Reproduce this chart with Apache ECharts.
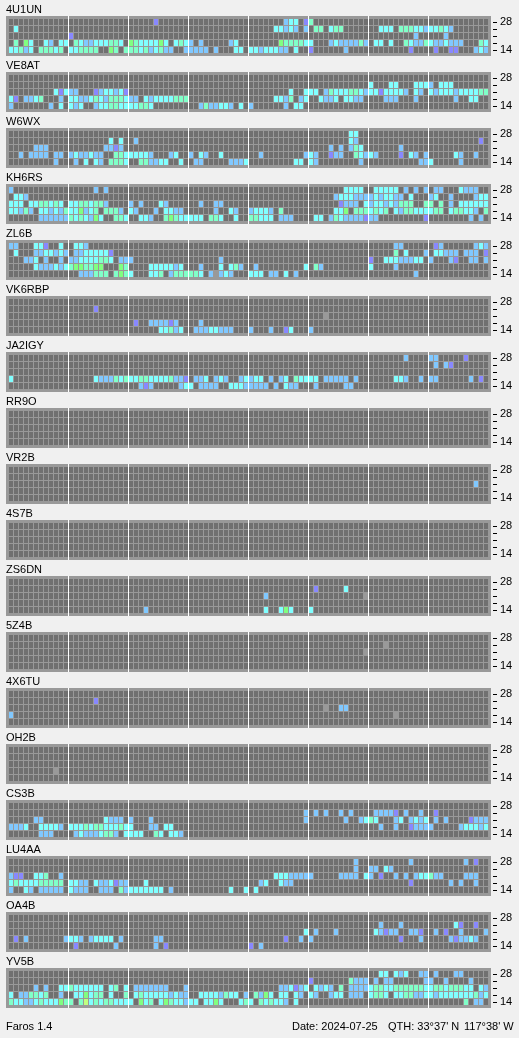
<!DOCTYPE html>
<html>
<head>
<meta charset="utf-8">
<title>Faros 1.4</title>
<style>
  html, body { margin: 0; padding: 0; background: #f0f0f0; }
  #chart { width: 519px; height: 1038px; }
</style>
<script src="https://cdn.jsdelivr.net/npm/echarts@6/dist/echarts.min.js"></script>
</head>
<body>
<div id="chart"></div>
<script>
// each station: five rows, 28 MHz on top down to 14 MHz, "slot+level" per heard quarter hour
// levels: p weakest, b, c, t, g, y strongest, x = no decode
const U4U1UN = [
  '29p 55b 56c 57c 59p 60t',
  '1c 53c 54c 55b 56c 57b 59b 61t 62t 64c 65t 66t 74c 75c 76c 78t 79t 80t 81c 82c 83b 84c 85c 86t 87c 88b',
  '12p 81b 87b',
  '1t 3g 4c 7c 8b 10c 11c 13t 14c 15b 16b 17c 18c 19c 20t 21t 22c 24g 25t 26c 27c 28c 29c 30g 31c 33c 34t 35c 36b 38b 44b 45c 54g 55t 56t 57t 58t 59c 60c 64b 65c 66b 67b 68b 69b 70t 71b 73c 74c 76c 79t 80c 81b 82b 83t 84c 85b 86b 87c 88b 89b 90b 94t 95c',
  '0c 1c 2t 3b 4c 6t 7t 8t 9c 10t 12c 13c 14t 15t 16t 17t 20g 21t 23t 24t 25t 26c 27t 28b 29c 30t 31b 32b 35b 36b 37b 38b 39b 41b 45c 46c 48c 49c 50b 51c 52c 53c 54b 55b 57c 60p 67b 80p 85p 88p 89p 93b 94c 95b'
];
const VE8AT = [
  '',
  '72c 76c 77c 81c 82c 83c 84b 86c 87c 88c',
  '9c 10p 11c 12b 13b 17p 18b 19c 20c 21b 22c 23p 56c 59c 60c 61c 63b 64t 65c 66c 67c 68t 69t 70c 71b 72c 73c 74p 75c 76c 77c 78c 79b 81c 82b 84c 85b 86c 87c 88c 89b 90c 91c 92c 93c 94t 95t',
  '0c 1p 3b 4b 5c 6t 10b 12c 13c 14b 15b 16c 17t 18c 19b 20t 21t 22t 23c 24b 25b 27c 28b 29c 30c 31c 32c 33t 34t 35t 53c 54c 55b 56t 58b 59c 62c 63b 64b 65c 67c 68c 69b 70b 75b 76b 77b 81b 89b 92c 93c',
  '0b 8b 10c 12c 13b 14c 17b 18c 19c 20t 21t 22c 23c 24c 25c 26t 27t 28c 38b 39t 40b 41b 42c 43c 44b 46c 48b 55b 57c 58c'
];
const W6WX = [
  '68c 69c',
  '20c 22c 25b 68c 69b 94p',
  '5b 6b 7b 19b 20b 21p 22b 64b 66b 68b 69t 70c 78b',
  '2b 4b 5b 6b 7b 9b 10b 12b 13c 14b 15b 16c 17b 18b 21t 22t 23c 24c 25c 26c 27c 28b 32b 33c 36b 38c 39b 42c 50b 59b 60c 61b 64p 65b 66b 69t 70c 71b 72c 73b 78p 80c 81b 83b 89c 90b 93b',
  '9b 13b 15c 17c 18b 20t 21t 22t 23c 26t 27t 28b 29b 30c 31c 34c 37b 38b 44b 45b 46b 47c 57c 58c 60c 61b 70b 82b 83b 84c 90b'
];
const KH6RS = [
  '0b 17b 19b 67c 68c 69c 70c 73c 74c 75c 76c 77c 79b 81b 83b 85b 86b 90c 91b 92b 93b',
  '1c 2c 3b 65b 66c 67c 68c 69b 70b 71b 72b 73c 74b 75c 76c 77b 78b 80c 84b 85c 88b 93b 94c 95c',
  '0c 1c 2c 4c 5c 6t 7t 8c 9t 10c 12c 13c 14t 15t 16c 17t 18t 19b 24b 26b 30c 31b 38b 41b 42b 66p 67b 68b 69b 71c 72b 73c 74c 75b 76c 77b 78t 79t 80t 83t 84t 86t 88b 90c 91c 92c 93c 94c 95c',
  '0c 1c 2b 3t 4b 6c 7c 8b 9c 10b 11t 12c 13c 14g 15b 16c 17t 19t 20t 21t 22b 24c 25b 29b 31c 32c 33b 34b 41b 44c 45b 48b 49c 50c 51c 52b 54t 65c 66c 67g 69t 70t 71t 72c 73t 74c 75t 77c 78b 79t 80t 81c 82c 83c 84c 85t 86t 88c 89t 90t 91c 92c 93b 95t',
  '6b 7b 8b 9b 10b 11b 12t 13c 14t 15c 16b 17g 18c 21t 22t 23c 26c 27c 28b 31t 32g 33t 34c 35c 36c 37c 38c 40t 41t 42c 45c 48t 49t 50c 51c 52c 54b 55b 56b 61c 62c 64b 65t 66c 67b 68b 69b 70b 71p 72b 73b 83p 92b 94b'
];
const ZL6B = [
  '0b 1b 5c 6c 7p 10c 13c 14c 15b 77b 78b 85p 86b 93b 94c 95b',
  '1c 5b 6b 7c 8c 9b 10c 11b 13b 14b 15c 16c 17c 18c 19c 20p 77t 79c 83b 85c 86c 87b 88b 89b 91b 92b 93b 95p',
  '3b 4b 5c 7b 10b 12b 13b 14c 15c 16c 17c 18t 19t 20c 22b 23b 24b 42b 72p 75c 76c 77c 78b 79b 80b 81c 82c 84b 88b 89p 92b 93b 95b',
  '5c 6b 7b 8b 9c 10b 11c 12t 13g 14g 15t 16t 17g 18g 22g 23t 28c 29c 30c 31c 32c 33b 34c 38b 42c 44c 45t 46b 49b 59c 61t 62b 72c 77b',
  '14b 15b 16b 17t 18t 19t 21t 22g 23t 24c 28c 29c 30t 32b 33t 34t 35t 36t 37t 38c 40b 41x 42b 43c 44b 48c 49c 50c 52b 53b 55c 57b 81b'
];
const VK6RBP = [
  '',
  '17p',
  '63x',
  '25p 28b 29b 30b 31b 32p 33b 38b',
  '30c 31c 32t 33b 34c 37b 38b 39b 40c 41c 42b 43b 44b 48b 52b 55p 56c 60b'
];
const JA2IGY = [
  '79b 84b 85b 91p',
  '85b 87b 88p',
  '',
  '0c 17c 18b 19b 20b 21t 22c 23t 24c 25c 26t 27t 28c 29c 30c 31c 32t 33b 34b 35p 37b 38b 39c 41b 42c 43b 46b 47c 48b 49c 50c 52b 54b 55c 57t 58c 59c 60c 61c 63b 64b 65b 66b 67b 69b 77c 78c 79b 82b 84b 85b 92b 94p',
  '26b 27p 28b 34b 35c 36c 38b 39b 40b 41b 44c 45c 46c 47b 48b 49b 50b 51b 53b 55c 56b 57b 61b 67b 68b'
];
const RR9O = ['', '', '', '', ''];
const VR2B = ['', '', '93b', '', ''];
const S4S7B = ['', '', '', '', ''];
const ZS6DN = [
  '',
  '61p 67c',
  '51b 71x',
  '',
  '27b 51c 54c 55g 56c 60c'
];
const Z5Z4B = ['', '75x', '71x', '', ''];
const X4X6TU = ['', '17p', '63x 66b 67b', '0b 77x', ''];
const OH2B = ['', '', '', '9x', ''];
const CS3B = [
  '',
  '59b 61b 63b 66b 68b 73b 74b 75b 76b 77p 79b 82b 85p',
  '5b 6b 19c 20b 21b 22b 24b 28b 59b 67b 70b 71c 72t 73c 77b 78c 80b 81c 82b 83c 85b 87b 92p 93b 94b 95b',
  '0b 1b 2b 3c 6c 7c 8c 9c 10b 12c 13c 14c 15t 16c 17t 18t 19c 20c 21c 22t 23c 24c 28b 29b 31c 32c 74b 77b 80p 81b 82b 83b 84b 90b 91c 92c 93c 94b 95c',
  '6b 7b 8b 13b 14c 15b 16b 17b 18c 19t 20t 21b 23c 24c 25c 26c 29t 30c 32c 33c 34b'
];
const LU4AA = [
  '69b 80b 91b 93p',
  '69b 72b 73b 75c 76b',
  '0b 1p 2p 5c 6c 7t 10b 53c 54c 55c 56b 57b 58b 59b 60b 66b 67b 68b 69b 71c 72b 74p 77b 79b 81b 82c 83c 84t 85b 86b 91b 92b 93b',
  '0c 1t 2c 3c 4c 5c 6t 7t 8t 9t 10t 12c 13c 14b 15b 17c 18b 19b 20c 21p 22b 23b 27c 50b 51c 54c 55b 56b 80p 88b 90b 93b',
  '0b 3c 4b 6b 7b 8b 9b 10b 12c 13b 14b 15b 18b 19b 20b 22t 23b 24c 25c 26c 27c 28c 29c 30c 32b 44c 47c 49c'
];
const OA4B = [
  '',
  '74b 78b 89c 90p 93p',
  '59c 61b 65b 73c 74b 75p 76b 77b 80b 81b 82p 85b 87p 90b 95b',
  '1p 3b 11b 12c 13c 14b 16b 17c 18c 19c 20c 22b 29b 30b 55p 58b 60b 78p 82b 88b 89p 90b 91b 92c 93b',
  '13p 21b 29b 31p 48p 50b'
];
const YV5B = [
  '74c 75c 77c 78b 79c 82b 83b 85b 89b 90b',
  '60p 68t 69b 70b 71b 73b 75b 76b 83b 84b 87b 92b',
  '5b 7b 10c 11c 12t 13c 14c 15c 16c 17c 18c 20c 21t 23c 25b 26b 27b 28b 29b 30b 31b 35b 54b 55b 56c 57p 58b 59c 61c 62b 63c 64b 66t 68b 69b 70b 71b 72c 73t 74t 75c 76c 77t 78t 79t 80t 81t 82t 83c 84c 85t 86t 87c 88t 89t 90t 91c 92c 94c 95b',
  '0c 2b 3b 4t 5t 6c 7t 10b 13c 14c 15g 16c 17t 18t 20c 23t 25c 26t 27c 28c 29c 30c 31c 32b 33c 34b 35b 38c 39c 40c 41c 42b 43t 44c 45c 47b 49t 50b 51g 52c 54c 55c 57c 58b 60c 61b 64b 65c 66c 68b 69b 70b 72c 73t 74t 75c 77c 78c 79t 80t 81b 82b 83c 84c 85b 86c 87c 88c 89c 90c 91c 92c 93t 94b 95c',
  '0t 1c 2c 3b 4b 5c 6t 7c 8c 9c 10g 11t 12t 14t 15y 16c 17t 18c 19t 20t 21c 22c 23c 24c 26g 27c 28t 30c 31g 32t 33c 34c 35b 36c 37c 39c 40c 41g 42c 46c 47t 48c 50t 51c 52t 53c 54c 55b 57c 91t 93b 94b'
];

const stationNames = ['4U1UN', 'VE8AT', 'W6WX', 'KH6RS', 'ZL6B', 'VK6RBP', 'JA2IGY', 'RR9O', 'VR2B', '4S7B', 'ZS6DN', '5Z4B', '4X6TU', 'OH2B', 'CS3B', 'LU4AA', 'OA4B', 'YV5B'];
const stationRows = [U4U1UN, VE8AT, W6WX, KH6RS, ZL6B, VK6RBP, JA2IGY, RR9O, VR2B, S4S7B, ZS6DN, Z5Z4B, X4X6TU, OH2B, CS3B, LU4AA, OA4B, YV5B];
const bands = ['14', '18', '21', '24', '28'];
const slotCount = 96;
const sectionStarts = [12, 24, 36, 48, 60, 72, 84];

const levelKeys = ['none', 'x', 'p', 'b', 'c', 't', 'g', 'y'];
const levelColors = ['#707070', '#999999', '#8888ff', '#80c8ff', '#80ffff', '#80ffc8', '#80ff80', '#c0ff80'];

const FONT = '"Liberation Sans", Arial, sans-serif';

// expand "12p 13c" strings to one [slot, band, level] per cell
function buildCells(rows) {
  const cells = [];
  rows.forEach(function (row, i) {
    const heard = {};
    row.split(' ').filter(Boolean).forEach(function (tok) {
      heard[parseInt(tok, 10)] = levelKeys.indexOf(tok.slice(-1));
    });
    for (let slot = 0; slot < slotCount; slot++) {
      cells.push([slot, rows.length - 1 - i, heard[slot] || 0]);
    }
  });
  return cells;
}

function renderCell(params, api) {
  const pos = api.coord([api.value(0), api.value(1)]);
  const size = api.size([1, 1]);
  return {
    type: 'rect',
    shape: {
      x: Math.round(pos[0]),
      y: Math.round(pos[1]) - 3,
      width: Math.round(size[0]) - 1,
      height: Math.round(size[1]) - 1
    },
    style: { fill: levelColors[api.value(2)] },
    silent: true
  };
}

function renderSection(params, api) {
  const pos = api.coord([api.value(0), 0]);
  return {
    type: 'rect',
    shape: {
      x: Math.round(pos[0]) - 1,
      y: params.coordSys.y,
      width: 1,
      height: params.coordSys.height
    },
    style: { fill: '#ffffff' },
    silent: true
  };
}

// short dash right of the panel at each band
function renderBandTick(params, api) {
  const pos = api.coord([0, api.value(0)]);
  return {
    type: 'rect',
    shape: {
      x: params.coordSys.x + params.coordSys.width + 2,
      y: Math.round(pos[1]),
      width: 4,
      height: 1
    },
    style: { fill: '#000000' },
    silent: true
  };
}

const grids = [], xAxes = [], yAxes = [], series = [], titles = [];

stationNames.forEach(function (name, i) {
  const top = 16 + 56 * i;
  grids.push({
    left: 6, top: top, width: 485, height: 40,
    show: true, backgroundColor: '#999999', borderWidth: 0
  });
  xAxes.push({ gridIndex: i, type: 'value', min: -0.6, max: 96.4, show: false });
  yAxes.push({
    gridIndex: i,
    type: 'value',
    position: 'right',
    min: -6 / 7,
    max: 4 + 6 / 7,
    offset: 2,
    axisLine: { show: false },
    splitLine: { show: false },
    axisTick: { show: false },
    axisLabel: {
      margin: 7,
      color: '#000',
      fontFamily: FONT,
      fontSize: 11,
      customValues: [0, 4],
      formatter: function (v) { return bands[v]; }
    }
  });
  series.push({
    type: 'custom',
    xAxisIndex: i,
    yAxisIndex: i,
    renderItem: renderCell,
    data: buildCells(stationRows[i]),
    animation: false
  });
  series.push({
    type: 'custom',
    xAxisIndex: i,
    yAxisIndex: i,
    renderItem: renderSection,
    data: sectionStarts.map(function (s) { return [s]; }),
    animation: false
  });
  series.push({
    type: 'custom',
    xAxisIndex: i,
    yAxisIndex: i,
    clip: false,
    renderItem: renderBandTick,
    data: bands.map(function (b, k) { return [k]; }),
    animation: false
  });
  titles.push({
    text: name,
    left: 6,
    top: top - 12,
    padding: 0,
    textStyle: { color: '#000', fontFamily: FONT, fontSize: 11, fontWeight: 'normal' }
  });
});

// footer line
function footer(text, x) {
  titles.push({
    text: text,
    left: x,
    top: 1021,
    padding: 0,
    textStyle: { color: '#000', fontFamily: FONT, fontSize: 11, fontWeight: 'normal' }
  });
}
footer('Faros 1.4', 6);
footer('Date: 2024-07-25', 292);
footer("QTH: 33°37' N", 388);
footer("117°38' W", 464);

const chart = echarts.init(document.getElementById('chart'), null, { renderer: 'canvas' });
chart.setOption({
  backgroundColor: '#f0f0f0',
  animation: false,
  title: titles,
  grid: grids,
  xAxis: xAxes,
  yAxis: yAxes,
  series: series
});
</script>
</body>
</html>
